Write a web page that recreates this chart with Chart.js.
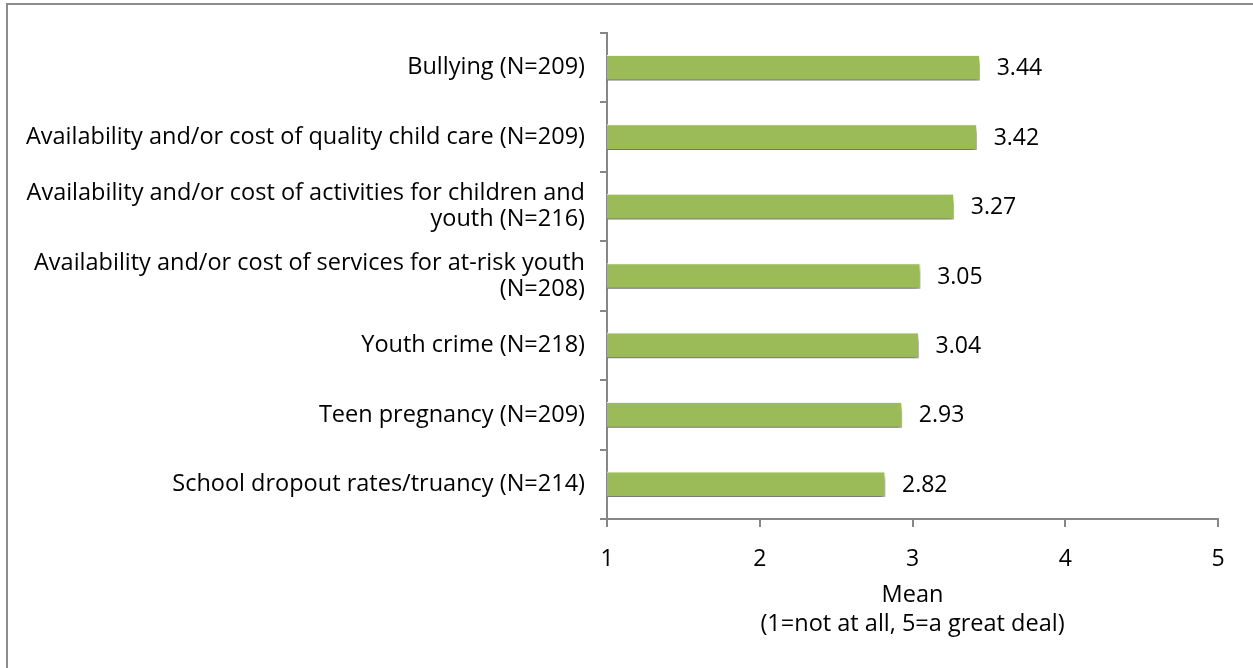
<!DOCTYPE html>
<html>
<head>
<meta charset="utf-8">
<script src="https://cdn.jsdelivr.net/npm/chart.js@4"></script>
<style>
  html, body { margin: 0; padding: 0; background: #fff; }
  #wrap { position: relative; width: 1253px; height: 668px; overflow: hidden; }
  #frame { position: absolute; left: 6px; top: 3px; width: 1300px; height: 700px;
           border-top: 2px solid #8c8c8c; border-left: 2px solid #8c8c8c; }
  canvas { position: absolute; left: 0; top: 0; }
</style>
</head>
<body>
<div id="wrap">
  <div id="frame"></div>
  <canvas id="meanChart" width="1253" height="668"></canvas>
</div>
<script>
const categories = [
  "Bullying (N=209)",
  "Availability and/or cost of quality child care (N=209)",
  ["Availability and/or cost of activities for children and", "youth (N=216)"],
  ["Availability and/or cost of services for at-risk youth", "(N=208)"],
  "Youth crime (N=218)",
  "Teen pregnancy (N=209)",
  "School dropout rates/truancy (N=214)"
];
const means = [3.44, 3.42, 3.27, 3.05, 3.04, 2.93, 2.82];
const xTicks = [1, 2, 3, 4, 5];
const axisTitle = ["Mean", "(1=not at all, 5=a great deal)"];

const axisGray = "#878787";
const fontFamily = "'Open Sans', Lato, sans-serif";
const textSize = 23.5;
Chart.defaults.font.family = fontFamily;
Chart.defaults.color = "#000";

// soft drop shadow under the bars
const barShadow = {
  id: "barShadow",
  beforeDatasetsDraw(chart) {
    const ctx = chart.ctx;
    ctx.save();
    ctx.shadowColor = "rgba(0,0,0,0.55)";
    ctx.shadowBlur = 5;
    ctx.shadowOffsetX = 1;
    ctx.shadowOffsetY = 5;
  },
  afterDatasetsDraw(chart) {
    chart.ctx.restore();
  }
};

// value labels to the right of each bar
const valueLabels = {
  id: "valueLabels",
  afterDatasetsDraw(chart) {
    const ctx = chart.ctx;
    const meta = chart.getDatasetMeta(0);
    ctx.save();
    ctx.font = "23px " + fontFamily;
    ctx.fillStyle = "#000";
    ctx.textAlign = "left";
    ctx.textBaseline = "middle";
    meta.data.forEach((bar, i) => {
      ctx.fillText(means[i].toFixed(2), bar.x + 17, bar.y + 1);
    });
    ctx.restore();
  }
};

new Chart(document.getElementById("meanChart"), {
  type: "bar",
  data: {
    labels: categories,
    datasets: [{
      data: means,
      backgroundColor: "#9bbb59",
      borderColor: "#f4f8ec",
      borderWidth: 1,
      borderSkipped: false,
      barThickness: 25
    }]
  },
  options: {
    indexAxis: "y",
    responsive: false,
    animation: false,
    devicePixelRatio: 1,
    layout: { padding: { top: 33, right: 35, bottom: 0, left: 0 } },
    plugins: { legend: { display: false }, tooltip: { enabled: false } },
    scales: {
      x: {
        min: 1,
        max: 5,
        afterBuildTicks(scale) {
          scale.ticks = xTicks.map(v => ({ value: v }));
        },
        afterFit(scale) { scale.height = 149; },
        grid: { drawOnChartArea: false, drawTicks: true, tickLength: 8, color: axisGray, lineWidth: 2 },
        border: { color: axisGray, width: 2 },
        ticks: { font: { size: 23 }, padding: 19, color: "#000" },
        title: {
          display: true,
          text: axisTitle,
          font: { size: textSize, lineHeight: 1.2 },
          padding: { top: 0, bottom: 30 },
          color: "#000"
        }
      },
      y: {
        afterFit(scale) { scale.width = 607; },
        grid: { drawOnChartArea: false, drawTicks: true, tickLength: 7, color: axisGray, lineWidth: 2, offset: true },
        border: { color: axisGray, width: 2 },
        ticks: { font: { size: textSize, lineHeight: 1.1 }, padding: 15, color: "#000", autoSkip: false }
      }
    }
  },
  plugins: [barShadow, valueLabels]
});
</script>
</body>
</html>
